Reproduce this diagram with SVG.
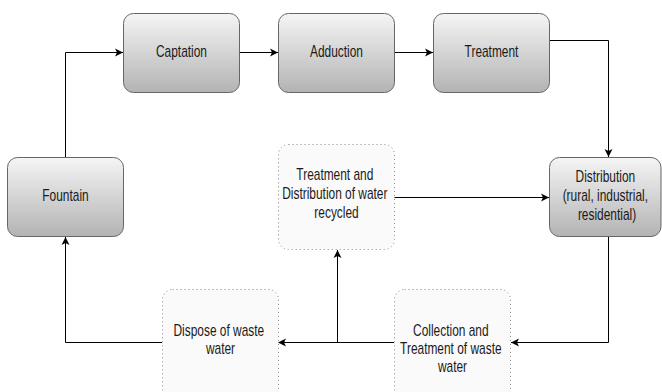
<svg xmlns="http://www.w3.org/2000/svg" width="662" height="392" viewBox="0 0 662 392">
  <defs>
    <linearGradient id="g" x1="0" y1="0" x2="0" y2="1">
      <stop offset="0" stop-color="#f5f5f5"/>
      <stop offset="1" stop-color="#b3b3b3"/>
    </linearGradient>
    <marker id="arr" markerUnits="userSpaceOnUse" markerWidth="10" markerHeight="10" refX="8" refY="4" orient="auto" viewBox="0 0 10 8">
      <path d="M0,0 L8,4 L0,8 L2,4 Z" fill="#000"/>
    </marker>
    <style>
      .solid { fill: url(#g); stroke: #666; stroke-width: 1; }
      .dot { fill: #fafafa; stroke: #888; stroke-width: 1; stroke-dasharray: 1 3; }
      .lbl { font-family: "Liberation Sans", Arial, sans-serif; font-size: 16px; fill: #1a1a1a; text-anchor: middle; }
      .edge { fill: none; stroke: #000; stroke-width: 1; marker-end: url(#arr); }
      .line { fill: none; stroke: #000; stroke-width: 1; }
    </style>
  </defs>

  <g id="edges">
    <path class="edge" d="M65.5,157 V52.5 H123"/>
    <path class="edge" d="M240,52.5 H278"/>
    <path class="edge" d="M394,52.5 H433"/>
    <path class="edge" d="M549,40.5 H608.5 V157"/>
    <path class="edge" d="M394,197.5 H549"/>
    <path class="edge" d="M608.5,237 V342.5 H511"/>
    <path class="edge" d="M394,342.5 H278"/>
    <path class="edge" d="M337.5,342.5 V250"/>
    <path class="edge" d="M162,342.5 H65.5 V237"/>
  </g>

  <g id="captation">
    <rect class="solid" x="123.5" y="13.5" width="116" height="79" rx="10"/>
    <text class="lbl" transform="translate(181.5 56.5) scale(0.745 1)" x="0" y="0">Captation</text>
  </g>
  <g id="adduction">
    <rect class="solid" x="278.5" y="13.5" width="116" height="79" rx="10"/>
    <text class="lbl" transform="translate(336.5 56.5) scale(0.745 1)" x="0" y="0">Adduction</text>
  </g>
  <g id="treatment">
    <rect class="solid" x="433.5" y="13.5" width="116" height="79" rx="10"/>
    <text class="lbl" transform="translate(491.5 56.5) scale(0.745 1)" x="0" y="0">Treatment</text>
  </g>
  <g id="fountain">
    <rect class="solid" x="7.5" y="157.5" width="116" height="79" rx="10"/>
    <text class="lbl" transform="translate(65.5 200.5) scale(0.745 1)" x="0" y="0">Fountain</text>
  </g>
  <g id="distribution">
    <rect class="solid" x="549.5" y="157.5" width="111.5" height="79" rx="10"/>
    <text class="lbl" transform="translate(607 182) scale(0.745 1)" x="0" y="0">
      <tspan x="0" y="0">Distribution</tspan>
      <tspan x="0" y="19">(rural, industrial,</tspan>
      <tspan x="0" y="38">residential)</tspan>
    </text>
  </g>
  <g id="recycled">
    <rect class="dot" x="278.5" y="144.5" width="116" height="105" rx="10"/>
    <text class="lbl" transform="translate(336.5 180) scale(0.745 1)" x="0" y="0">
      <tspan x="0" y="0">Treatment and</tspan>
      <tspan x="0" y="19">Distribution of water</tspan>
      <tspan x="0" y="38">recycled</tspan>
    </text>
  </g>
  <g id="collection">
    <rect class="dot" x="394.5" y="289.5" width="116" height="110" rx="10"/>
    <text class="lbl" transform="translate(452.5 335.5) scale(0.745 1)" x="0" y="0">
      <tspan x="0" y="0">Collection and</tspan>
      <tspan x="0" y="18.5">Treatment of waste</tspan>
      <tspan x="0" y="37">water</tspan>
    </text>
  </g>
  <g id="dispose">
    <rect class="dot" x="162.5" y="289.5" width="116" height="110" rx="10"/>
    <text class="lbl" transform="translate(220.5 336) scale(0.745 1)" x="0" y="0">
      <tspan x="0" y="0">Dispose of waste</tspan>
      <tspan x="0" y="18.5">water</tspan>
    </text>
  </g>
</svg>
